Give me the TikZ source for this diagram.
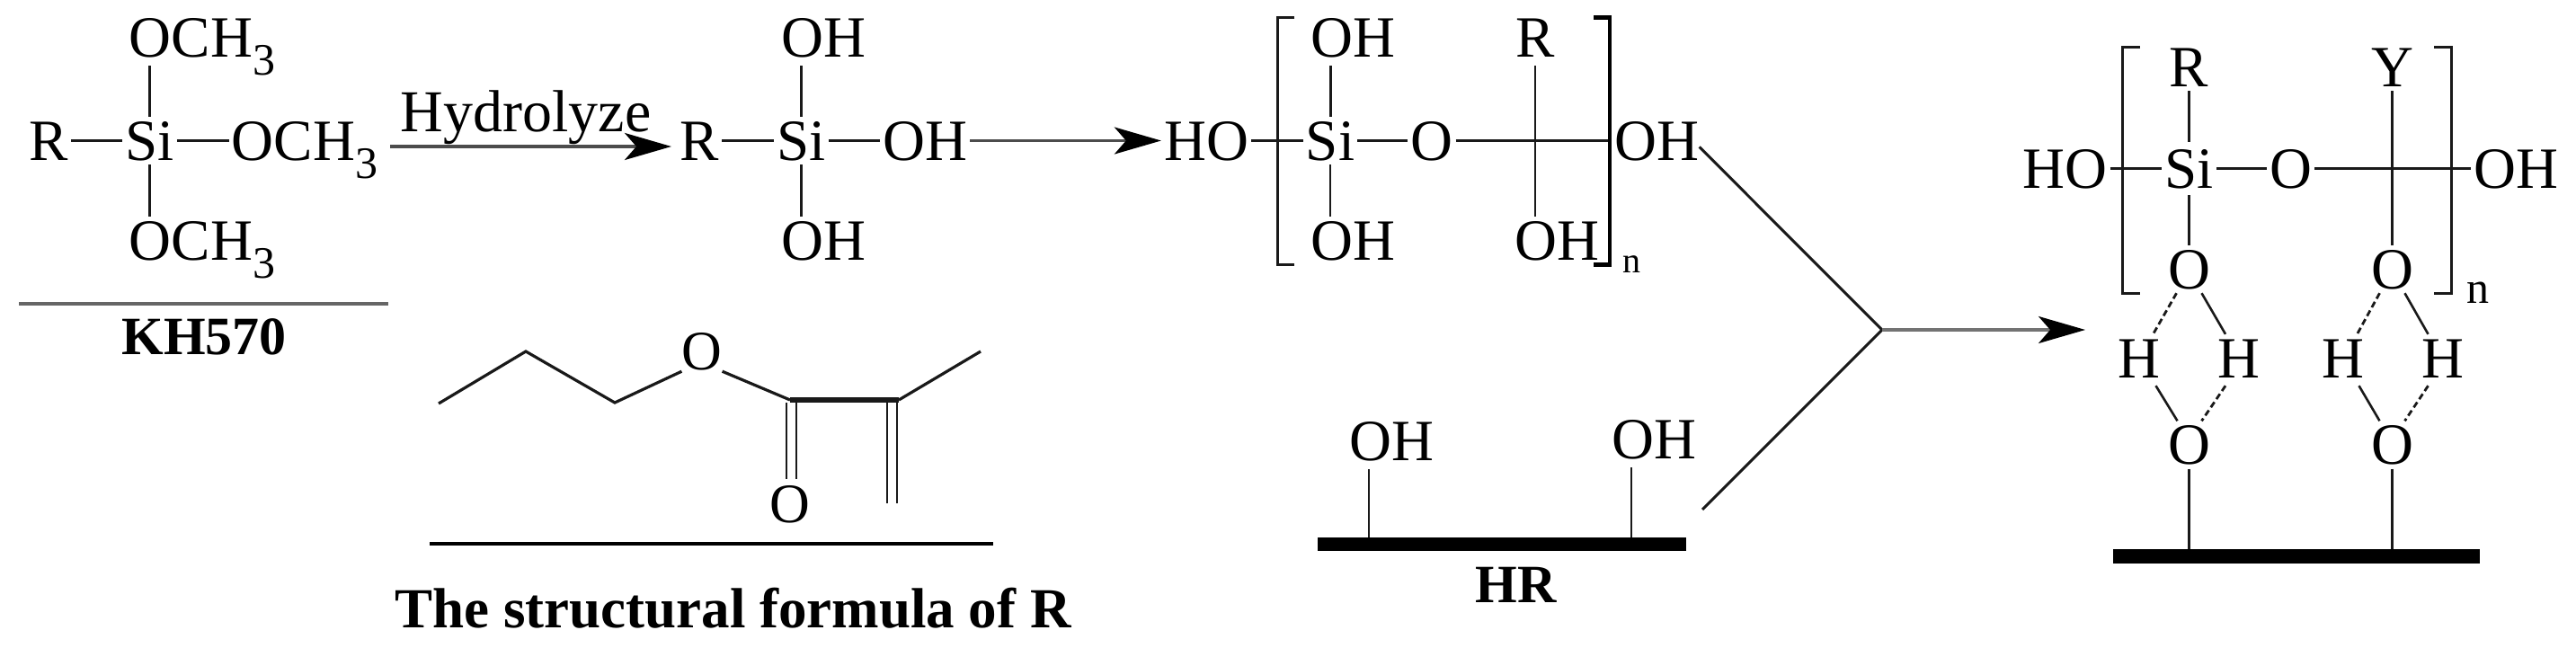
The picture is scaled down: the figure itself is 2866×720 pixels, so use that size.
\documentclass[tikz,border=0pt]{standalone}
\usepackage{fontspec}
\setmainfont{Liberation Serif}
\usetikzlibrary{calc,arrows.meta}
\newcommand{\subthree}{\raisebox{-20pt}{\fontsize{50}{50}\selectfont 3}}
\tikzset{
  atom/.style={anchor=base,inner xsep=3pt,inner ysep=5pt,text height=43pt,text depth=0pt,font=\fontsize{65}{70}\selectfont},
  up/.style={text depth=5pt},
  boldlabel/.style={anchor=base,inner sep=0pt,font=\fontsize{60}{66}\selectfont\bfseries},
  bond/.style={draw=black!90,line width=3.2pt},
  thinbond/.style={draw=black!90,line width=2.4pt},
  dblbond/.style={draw=black!90,line width=2.6pt},
  hbond/.style={draw=black!90,line width=2.8pt,dash pattern=on 7pt off 4pt},
  rule/.style={draw=black!60,line width=4pt},
  brk/.style={draw=black!90,line width=3pt},
  brkthick/.style={draw=black,line width=4.4pt},
  bar/.style={fill=black,draw=none,inner sep=0pt,minimum height=15pt},
  flow/.style={draw=black!70,line width=3.4pt,-{Stealth[black,length=52pt,width=30pt,inset=13pt]}},
  feed/.style={draw=black!90,line width=3pt},
}
\begin{document}
\begin{tikzpicture}[x=1pt,y=-1pt]
\useasboundingbox (0,0) rectangle (2866,720);
% --- KH570
\node[atom,up] (a1) at (225,63) {OCH\subthree};
\node[atom] (a2) at (54,178) {R};
\node[atom] (a3) at (166.5,178) {Si};
\node[atom] (a4) at (339,178) {OCH\subthree};
\node[atom] (a5) at (225,289) {OCH\subthree};
\draw[bond] (a2.east) -- (a3.west);
\draw[bond] (a3.east) -- (a4.west);
\draw[bond] (a3.north) -- (a3.north |- a1.south);
\draw[bond] (a3.south) -- (a3.south |- a5.north);
\coordinate (rule1a) at (21,337.5);
\coordinate (rule1b) at (432,337.5);
\draw[rule] (rule1a) -- (rule1b);
\node[boldlabel] (kh) at (227,394) {KH570};
% --- hydrolyze arrow
\node[anchor=base,inner sep=0pt,font=\fontsize{66}{70}\selectfont] (hy) at (585,146) {Hydrolyze};
\coordinate (ar1a) at (434,163);
\coordinate (ar1b) at (747,163);
\draw[flow] (ar1a) -- (ar1b);
% --- silanol
\node[atom,up] (b1) at (916.5,63) {OH};
\node[atom] (b2) at (778.5,178) {R};
\node[atom] (b3) at (891.5,178) {Si};
\node[atom] (b4) at (1029,178) {OH};
\node[atom] (b5) at (916.5,289) {OH};
\draw[bond] (b2.east) -- (b3.west);
\draw[bond] (b3.east) -- (b4.west);
\draw[bond] (b3.north) -- (b3.north |- b1.south);
\draw[bond] (b3.south) -- (b3.south |- b5.north);
% --- oligomer
\node[atom] (c1) at (1342,178) {HO};
\node[atom] (c2) at (1480,178) {Si};
\node[atom] (c3) at (1593,178) {O};
\node[atom] (c4) at (1843.5,178) {OH};
\node[atom,up] (c5) at (1505.5,63) {OH};
\node[atom,up] (c6) at (1708,63) {R};
\node[atom] (c7) at (1505.5,289) {OH};
\node[atom] (c8) at (1732,289) {OH};
\node[anchor=base,inner sep=0pt,font=\fontsize{40}{44}\selectfont] (c9) at (1815.5,303) {n};
\draw[flow] (b4.east) -- (c1.west);
\draw[bond] (c1.east) -- (c2.west);
\draw[bond] (c2.east) -- (c3.west);
\draw[bond] (c3.east) -- (c4.west);
\coordinate (c5b) at ($(c5.south)+(-25,0)$);
\draw[thinbond] (c5b) -- (c5b |- c2.north);
\draw[thinbond] (c2.south) -- (c2.south |- c7.north);
\draw[thinbond] (c6.south) -- (c6.south |- c8.north);
\draw[brk] (1440,19.5) -- (1421,19.5) -- (1421,294.5) -- (1440,294.5);
\draw[brkthick] (1773,19.5) -- (1791,19.5) -- (1791,294.5) -- (1773,294.5);
% --- structure of R
\coordinate (d1) at (488,449);
\coordinate (d2) at (585,391);
\coordinate (d3) at (684,448);
\node[atom,font=\fontsize{62}{70}\selectfont] (d4) at (781,411) {O};
\coordinate (d5) at (879,445);
\coordinate (d6) at (1000,445);
\coordinate (d7) at (1091,391);
\node[atom,font=\fontsize{62}{70}\selectfont] (d8) at (879,581) {O};
\coordinate (d9) at (992.5,560);
\draw[bond] (d1) -- (d2) -- (d3) -- ($(d4.south west)+(3,-3)$);
\draw[bond] ($(d4.south east)+(-3,-3)$) -- (d5);
\draw[dblbond] ($(d5)+(0,-1.5)$) -- ($(d6)+(0,-1.5)$);
\draw[dblbond] ($(d5)+(0,1.5)$) -- ($(d6)+(0,1.5)$);
\draw[bond] (d6) -- (d7);
\draw[dblbond] ($(d5)+(-4,3)$) -- ($(d8.north)+(-4,0)$);
\draw[dblbond] ($(d5)+(7,3)$) -- ($(d8.north)+(7,0)$);
\draw[dblbond] ($(d6)+(-13,3)$) -- ($(d9)+(-5.5,0)$);
\draw[dblbond] ($(d6)+(-2,3)$) -- ($(d9)+(5.5,0)$);
\coordinate (rule2a) at (478,605);
\coordinate (rule2b) at (1105,605);
\draw[draw=black,line width=3.6pt] (rule2a) -- (rule2b);
\node[boldlabel,font=\fontsize{63}{66}\selectfont\bfseries] (st) at (815.5,698) {The structural formula of R};
% --- HR
\node[atom,up] (e1) at (1548.5,512) {OH};
\node[atom,up] (e2) at (1840,510) {OH};
\node[bar,minimum width=410pt] (e3) at (1671,605.5) {};
\node[boldlabel] (e4) at (1686.5,670) {HR};
\coordinate (e1b) at ($(e1.south)+(-25.5,0)$);
\coordinate (e2b) at ($(e2.south)+(-25,0)$);
\draw[thinbond] (e1b) -- (e1b |- e3.north);
\draw[thinbond] (e2b) -- (e2b |- e3.north);
% --- junction
\coordinate (j) at (2094,367);
\coordinate (jb) at (1894,567);
\coordinate (jc) at (2320,367);
\draw[feed] ($(c4.east)+(-3,7)$) -- (j) -- (jb);
\draw[flow,draw=black!55] (j) -- (jc);
% --- grafted product
\node[atom] (f1) at (2297.5,209) {HO};
\node[atom,inner ysep=8pt] (f2) at (2435.5,209) {Si};
\node[atom] (f3) at (2548.5,209) {O};
\node[atom] (f4) at (2799.5,209) {OH};
\node[atom] (f5) at (2435.5,96) {R};
\node[atom] (f6) at (2661.5,96) {Y};
\node[atom] (f7) at (2435.5,321) {O};
\node[atom] (f8) at (2661.5,321) {O};
\node[anchor=base,inner sep=0pt,font=\fontsize{50}{54}\selectfont] (f9) at (2756.5,337) {n};
\node[atom] (g1) at (2379.5,420) {H};
\node[atom] (g2) at (2491,420) {H};
\node[atom] (g3) at (2606.5,420) {H};
\node[atom] (g4) at (2717.5,420) {H};
\node[atom] (g5) at (2435.5,516.5) {O};
\node[atom] (g6) at (2661.5,516.5) {O};
\node[bar,minimum width=408pt,minimum height=16pt] (g7) at (2555,619) {};
\draw[bond] (f1.east) -- (f2.west);
\draw[bond] (f2.east) -- (f3.west);
\draw[bond] (f3.east) -- (f4.west);
\draw[bond] (f5.south) -- (f2.north);
\draw[bond] (f2.south) -- (f2.south |- f7.north);
\draw[bond] (f6.south) -- (f6.south |- f8.north);
\draw[hbond] ($(f7.south)+(-14,0)$) -- ($(g1.north)+(16,0)$);
\draw[dblbond] ($(f7.south)+(14,0)$) -- ($(g2.north)+(-15,0)$);
\draw[dblbond] ($(g1.south)+(19,4)$) -- ($(g5.north)+(-13,0)$);
\draw[hbond] ($(g2.south)+(-15,4)$) -- ($(g5.north)+(14,0)$);
\draw[hbond] ($(f8.south)+(-14,0)$) -- ($(g3.north)+(16,0)$);
\draw[dblbond] ($(f8.south)+(14,0)$) -- ($(g4.north)+(-16,0)$);
\draw[dblbond] ($(g3.south)+(18,4)$) -- ($(g6.north)+(-14,0)$);
\draw[hbond] ($(g4.south)+(-16,4)$) -- ($(g6.north)+(14,0)$);
\draw[bond] (g5.south) -- (g5.south |- g7.north);
\draw[bond] (g6.south) -- (g6.south |- g7.north);
\draw[brk] (2381,52) -- (2361,52) -- (2361,326.5) -- (2381,326.5);
\draw[brk] (2708,52) -- (2727,52) -- (2727,326.5) -- (2708,326.5);
\end{tikzpicture}
\end{document}
